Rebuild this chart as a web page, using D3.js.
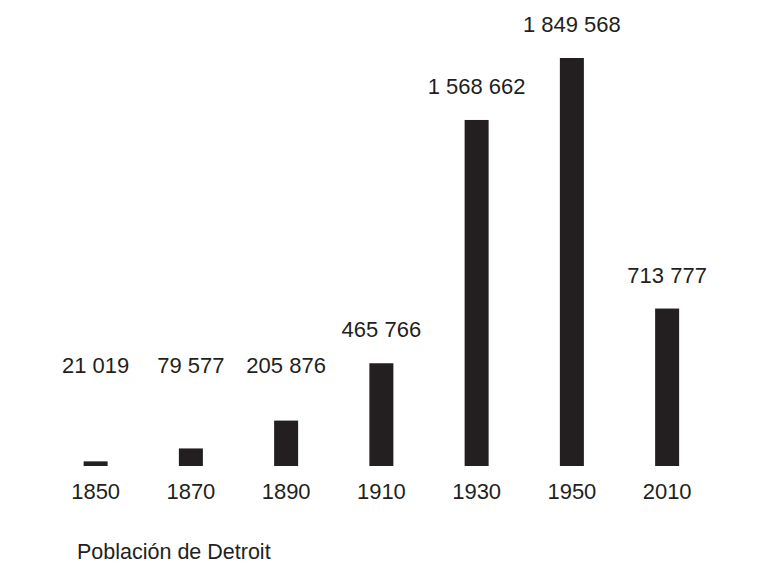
<!DOCTYPE html>
<html>
<head>
<meta charset="utf-8">
<script src="https://cdn.jsdelivr.net/npm/d3@7"></script>
<style>
  html, body { margin: 0; padding: 0; background: #ffffff; }
  svg { display: block; font-family: "Liberation Sans", Arial, sans-serif; }
</style>
</head>
<body>
<svg id="chart" width="776" height="576"></svg>
<script>
// Detroit population by census year
const years = ["1850", "1870", "1890", "1910", "1930", "1950", "2010"];
const population = [21019, 79577, 205876, 465766, 1568662, 1849568, 713777];
const title = "Población de Detroit";

const ink = "#231f20";
const svg = d3.select("#chart");

const x = d3.scaleBand()
  .domain(years)
  .range([48, 714.75])
  .paddingInner(0.748)
  .paddingOuter(0.374);

const y = d3.scaleLinear()
  .domain([0, d3.max(population)])
  .range([466, 58]);

// thousands separated by a space
const fmt = v => d3.format(",")(v).replace(/,/g, " ");

const data = years.map((yr, i) => ({ year: yr, value: population[i] }));

svg.append("g")
  .selectAll("rect")
  .data(data)
  .join("rect")
  .attr("x", d => x(d.year))
  .attr("y", d => y(d.value))
  .attr("width", x.bandwidth())
  .attr("height", d => y(0) - y(d.value))
  .attr("fill", ink);

// value labels sit above each bar, never lower than a common floor line
const labelFloor = 373;
svg.append("g")
  .selectAll("text")
  .data(data)
  .join("text")
  .attr("x", d => x(d.year) + x.bandwidth() / 2)
  .attr("y", d => Math.min(y(d.value) - 26, labelFloor))
  .attr("text-anchor", "middle")
  .attr("font-size", 22)
  .attr("fill", ink)
  .text(d => fmt(d.value));

// year axis, labels only
const axis = svg.append("g")
  .attr("transform", `translate(0,${y(0)})`)
  .call(d3.axisBottom(x).tickSize(0).tickPadding(0));
axis.select(".domain").remove();
axis.selectAll("text")
  .attr("dy", null)
  .attr("y", 33)
  .attr("font-size", 22)
  .attr("font-family", "Liberation Sans, Arial, sans-serif")
  .attr("fill", ink);

svg.append("text")
  .attr("x", 77)
  .attr("y", 559)
  .attr("font-size", 21.5)
  .attr("fill", ink)
  .text(title);
</script>
</body>
</html>
